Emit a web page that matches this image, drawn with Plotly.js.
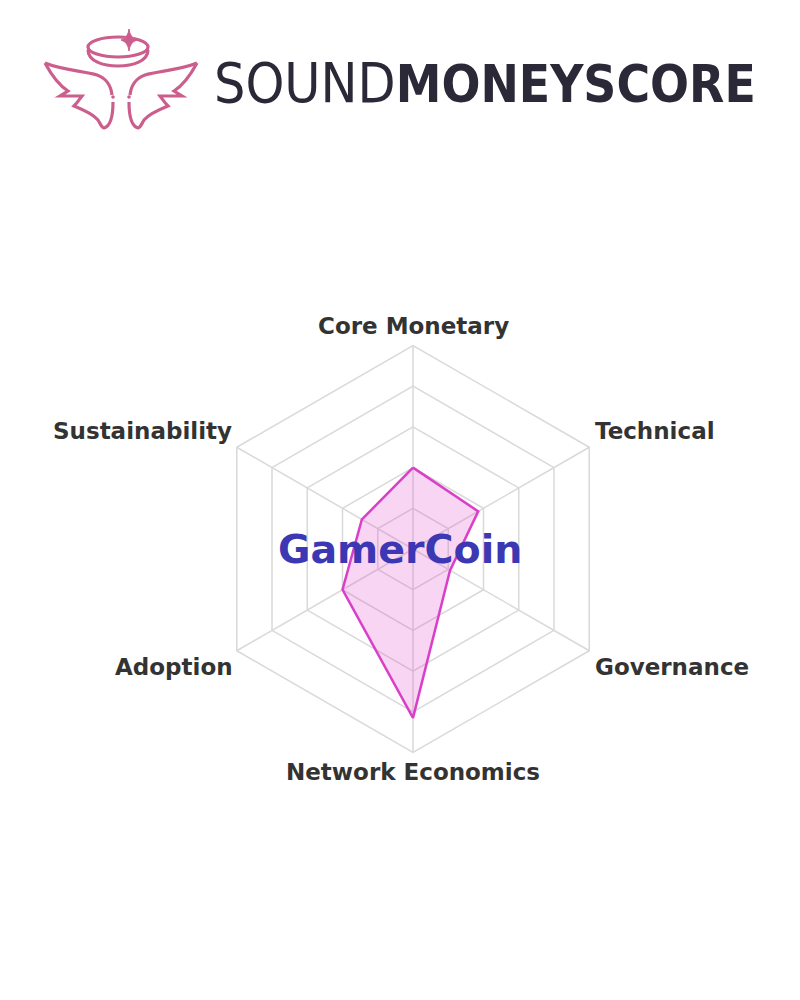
<!DOCTYPE html>
<html>
<head>
<meta charset="utf-8">
<script src="https://cdn.plot.ly/plotly-3.0.1.min.js"></script>
<style>html,body{margin:0;padding:0;background:#fff;}#chart{width:800px;height:1000px;}</style>
</head>
<body>
<div id="chart"></div>
<script>
// ---- data ----
const categories = ["Core Monetary", "Technical", "Governance", "Network Economics", "Adoption", "Sustainability"];
const scores = [4.0, 3.7, 2.1, 8.3, 4.0, 2.9];
const coinName = "GamerCoin";
const brandLight = "SOUND";
const brandBold = "MONEYSCORE";

// ---- helpers: logo drawn in page pixels, converted to paper coords ----
const W = 800, H = 1000;
function toPaper(path) {
  let isX = true;
  return path.replace(/-?\d+(\.\d+)?/g, m => {
    const v = parseFloat(m);
    const r = isX ? (v / W) : (1 - v / H);
    isX = !isX;
    return r.toFixed(5);
  });
}
function mirror(path, cx) {
  let isX = true;
  return path.replace(/-?\d+(\.\d+)?/g, m => {
    const v = parseFloat(m);
    const r = isX ? (2 * cx - v) : v;
    isX = !isX;
    return String(r);
  });
}
const pink = "#cc5e8e";
const wingTop = "M 45,63 C 62,70 84,71 97,75 C 106,78 111,86 112,95";
const wingLow = "M 45,63 C 52,76 60,86 68,91 L 60,96 L 82,96 C 79,100 77,103 74,106 C 84,110 93,114 98,120 C 101,125 102,128 104,128 C 111,126 113,114 113,102";
const haloLow = "M 88,50 C 88,61 103,66 118,66 C 133,66 148,61 148,50";
const star = "M 129,29 Q 130,38 137,40 Q 130,42 129,51 Q 128,42 121,40 Q 128,38 129,29 Z";
const logoShapes = [];
[wingTop, wingLow, mirror(wingTop, 121), mirror(wingLow, 121), haloLow].forEach(p => {
  logoShapes.push({type: "path", xref: "paper", yref: "paper", path: toPaper(p),
    line: {color: pink, width: 3.2}, fillcolor: "rgba(0,0,0,0)"});
});
logoShapes.push({type: "circle", xref: "paper", yref: "paper",
  x0: 88 / W, x1: 148 / W, y0: 1 - 57 / H, y1: 1 - 37 / H,
  line: {color: pink, width: 3.2}, fillcolor: "rgba(0,0,0,0)"});
logoShapes.push({type: "circle", xref: "paper", yref: "paper",
  x0: 124 / W, x1: 134 / W, y0: 1 - 44 / H, y1: 1 - 36 / H,
  line: {width: 0}, fillcolor: "#ffffff"});
logoShapes.push({type: "path", xref: "paper", yref: "paper", path: toPaper(star),
  line: {color: pink, width: 1}, fillcolor: pink});
[[113, 97], [129, 97]].forEach(([x, y]) => {
  logoShapes.push({type: "circle", xref: "paper", yref: "paper",
    x0: (x - 1.8) / W, x1: (x + 1.8) / W, y0: 1 - (y + 1.8) / H, y1: 1 - (y - 1.8) / H,
    line: {color: pink, width: 0}, fillcolor: pink});
});

// ---- chart ----
const cx = 413, cy = 549, R = 203.5;
const trace = {
  type: "scatterpolar",
  r: scores.concat([scores[0]]),
  theta: categories.concat([categories[0]]),
  mode: "lines",
  fill: "toself",
  fillcolor: "rgba(222, 70, 200, 0.22)",
  line: {color: "#d93fc8", width: 2.5},
  hoverinfo: "skip",
  showlegend: false
};

// category labels placed around the hexagon (clockwise from top)
const labelFont = {family: "DejaVu Sans", size: 23, color: "#333333", weight: "bold"};
const labelPlacement = [
  {dx: 0, dy: -20, xa: "center"},
  {dx: 4, dy: -16, xa: "left"},
  {dx: 4, dy: 16, xa: "left"},
  {dx: 0, dy: 19, xa: "center"},
  {dx: -2, dy: 16, xa: "right"},
  {dx: -3, dy: -16, xa: "right"}
];
const labelAnnotations = categories.map((c, i) => {
  const ang = Math.PI / 2 - i * 2 * Math.PI / categories.length;
  const vx = cx + R * Math.cos(ang), vy = cy - R * Math.sin(ang);
  const p = labelPlacement[i];
  return {text: c, xref: "paper", yref: "paper",
    x: (vx + p.dx) / W, y: 1 - (vy + p.dy) / H,
    xanchor: p.xa, yanchor: "middle", showarrow: false, font: labelFont};
});

const gridColor = "#d9d9d9";
const brandFont = "Liberation Sans Narrow, DejaVu Sans Condensed, DejaVu Sans";
const layout = {
  width: W, height: H,
  margin: {l: 0, r: 0, t: 0, b: 0},
  paper_bgcolor: "#ffffff",
  plot_bgcolor: "#ffffff",
  showlegend: false,
  polar: {
    domain: {x: [(cx - R) / W, (cx + R) / W], y: [1 - (cy + R) / H, 1 - (cy - R) / H]},
    bgcolor: "#ffffff",
    gridshape: "linear",
    radialaxis: {
      range: [0, 10], tickvals: [2, 4, 6, 8, 10], showticklabels: false, ticks: "",
      showline: false, gridcolor: gridColor, gridwidth: 1.5
    },
    angularaxis: {
      direction: "clockwise", rotation: 90, ticks: "", showticklabels: false,
      gridcolor: gridColor, gridwidth: 1.5, linecolor: gridColor, linewidth: 1.5
    }
  },
  shapes: logoShapes,
  annotations: labelAnnotations.concat([
    {text: coinName, xref: "paper", yref: "paper", x: 399.5 / W, y: 1 - 549 / H,
     xanchor: "center", yanchor: "middle", showarrow: false,
     font: {family: "DejaVu Sans", size: 39.5, color: "#3c37b2", weight: "bold"}},
    {text: '<span style="font-size:55px">' + brandLight + '</span>' +
           '<span style="font-size:51px;font-weight:bold">' + brandBold + '</span>',
     xref: "paper", yref: "paper", x: 212 / W, y: 1 - 83 / H,
     xanchor: "left", yanchor: "middle", showarrow: false,
     font: {family: brandFont, size: 55, color: "#2b2838"}}
  ])
};

Plotly.newPlot("chart", [trace], layout, {displayModeBar: false, staticPlot: true});
</script>
</body>
</html>
